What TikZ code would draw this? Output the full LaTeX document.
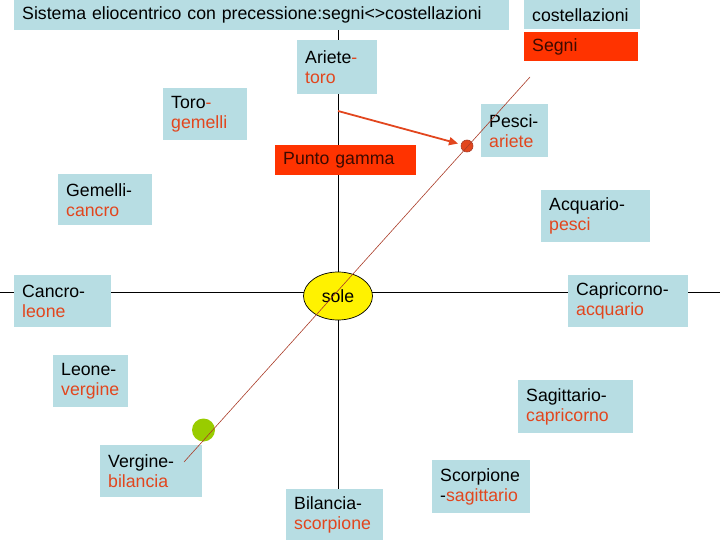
\documentclass[tikz,border=0pt]{standalone}
\usepackage{fontspec}
\setmainfont{Liberation Sans}
\usetikzlibrary{arrows.meta,shapes.geometric}
\definecolor{boxblue}{RGB}{183,221,227}
\definecolor{txtred}{RGB}{226,70,30}
\definecolor{boxred}{RGB}{255,51,0}
\definecolor{darktxt}{RGB}{60,10,0}
\definecolor{linebrown}{RGB}{170,60,40}
\definecolor{dotgreen}{RGB}{153,204,0}
\tikzset{
  lbl/.style={fill=boxblue, anchor=north west, inner xsep=8pt, inner ysep=0pt,
    align=left, font=\fontsize{17.7}{20}\selectfont},
  redbox/.style={fill=boxred, anchor=north west, inner xsep=8pt, inner ysep=0pt,
    align=left, font=\fontsize{17.7}{20}\selectfont, text=darktxt},
  axis/.style={black, line width=0.8pt},
  diag/.style={linebrown, line width=0.6pt},
}
\newcommand{\rd}[1]{\textcolor{txtred}{#1}}
\begin{document}
\begin{tikzpicture}[x=1pt,y=-1pt]
\useasboundingbox (0,0) rectangle (720,540);
% axes
\coordinate (vtop) at (338,30);
\coordinate (vbot) at (338,489);
\coordinate (hl) at (0,292);
\coordinate (hr) at (720,292);
\draw[axis] (vtop) -- (vbot);
\draw[axis] (hl) -- (hr);
% boxes
\node[lbl, minimum width=495, minimum height=30, text width=479] (title) at (14,0) {Sistema eliocentrico con precessione:segni<>costellazioni};
\node[lbl, minimum width=116, minimum height=29, text width=100] (cost) at (524,0) {costellazioni};
\node[redbox, minimum width=114, minimum height=29, text width=98] (segni) at (524,32) {Segni};
\node[lbl, minimum width=80, minimum height=54, text width=64] (ariete) at (297,40) {Ariete\rd{-}\\\rd{toro}};
\node[lbl, minimum width=84, minimum height=52, text width=68] (toro) at (163,88) {Toro\rd{-}\\\rd{gemelli}};
\node[redbox, minimum width=141, minimum height=30, text width=125] (gamma) at (275,145) {Punto gamma};
\node[lbl, minimum width=67, minimum height=53, text width=51] (pesci) at (481,104) {Pesci-\\\rd{ariete}};
\node[lbl, minimum width=94, minimum height=51, text width=78] (gemelli) at (58,174) {Gemelli-\\\rd{cancro}};
\node[lbl, minimum width=109, minimum height=52, text width=93] (acquario) at (541,190) {Acquario-\\\rd{pesci}};
\node[lbl, minimum width=97, minimum height=52, text width=81] (cancro) at (14,275) {Cancro-\\\rd{leone}};
\node[lbl, minimum width=120, minimum height=52, text width=104] (capricorno) at (568,275) {Capricorno-\\\rd{acquario}};
\node[lbl, minimum width=75, minimum height=52, text width=59] (leone) at (53,355) {Leone-\\\rd{vergine}};
\node[lbl, minimum width=115, minimum height=53, text width=99] (sagittario) at (518,380) {Sagittario-\\\rd{capricorno}};
\node[lbl, minimum width=102, minimum height=52, text width=86] (vergine) at (100,445) {Vergine-\\\rd{bilancia}};
\node[lbl, minimum width=97, minimum height=51, text width=81] (bilancia) at (286,489) {Bilancia-\\\rd{scorpione}};
\node[lbl, minimum width=98, minimum height=53, text width=82] (scorpione) at (432,460) {Scorpione\\-\rd{sagittario}};
% sun
\node[draw=black, fill=yellow, ellipse, minimum width=69, minimum height=48, inner sep=0pt,
  font=\fontsize{17.7}{20}\selectfont, line width=0.7pt] (sole) at (338,296) {sole};
% dots
\node[circle, fill=dotgreen, minimum size=23, inner sep=0pt] (green) at (203.5,430) {};
\node[circle, fill=txtred, draw=linebrown, minimum size=12, inner sep=0pt, line width=0.6pt] (reddot) at (467,146) {};
% diagonal
\coordinate (dtop) at (530,77);
\coordinate (dbot) at (184,462);
\draw[diag] (dtop) -- (dbot);
% arrow
\coordinate (astart) at (338,111);
\draw[txtred, line width=1.8pt, shorten >=3pt, -{Triangle[length=9pt,width=8pt]}] (astart) -- (reddot);
\end{tikzpicture}
\end{document}
